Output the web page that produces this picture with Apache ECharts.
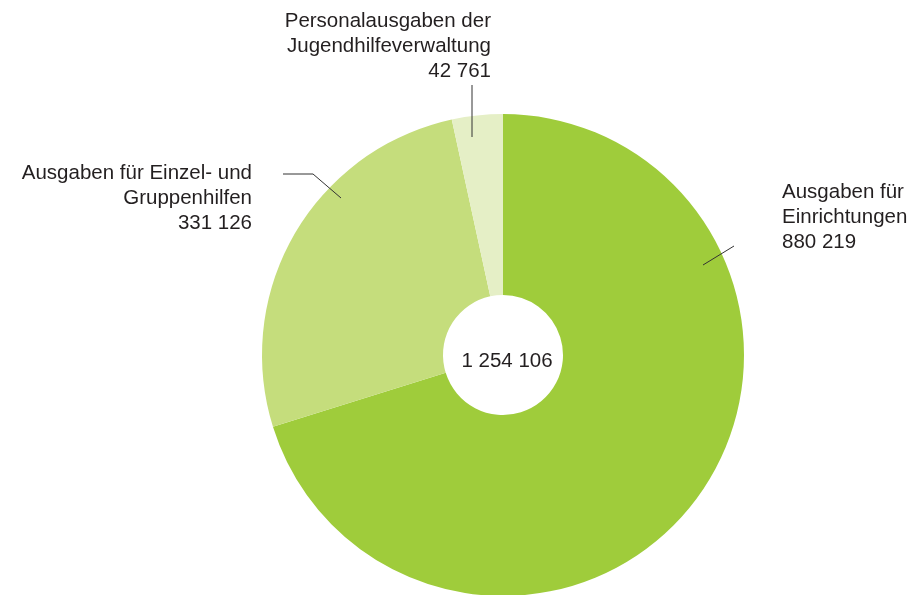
<!DOCTYPE html>
<html>
<head>
<meta charset="utf-8">
<script src="https://cdn.jsdelivr.net/npm/echarts@6/dist/echarts.min.js"></script>
<style>
html,body{margin:0;padding:0;background:#fff;}
#chart{width:916px;height:595px;}
</style>
</head>
<body>
<div id="chart"></div>
<script>
// Daten
var names = ['Ausgaben für\nEinrichtungen', 'Ausgaben für Einzel- und\nGruppenhilfen', 'Personalausgaben der\nJugendhilfeverwaltung'];
var values = [880219, 331126, 42761];
var colors = ['#9fcc3b', '#c5dd7c', '#e5efc6'];

function fmt(v)
{
	return String(v).replace(/\B(?=(\d{3})+(?!\d))/g, ' ');
}

var total = 0;
for (var i = 0; i < values.length; i++) total += values[i];

var pieData = [];
for (var i = 0; i < values.length; i++)
{
	pieData.push({name: names[i], value: values[i], itemStyle: {color: colors[i]}});
}

// Beschriftungen: Lage der Texte und Führungslinien
var labelPos = [
	{x: 782, y: 180, align: 'left', line: [[703, 265], [734, 246]]},
	{x: 252, y: 161, align: 'right', line: [[341, 198], [313, 174], [283, 174]]},
	{x: 491, y: 9, align: 'right', line: [[472, 137], [472, 85]]}
];

// Führungslinien über den Segmenten
var leaderLines = [];
for (var i = 0; i < labelPos.length; i++)
{
	leaderLines.push({
		type: 'polyline',
		z: 100,
		shape: {points: labelPos[i].line},
		style: {stroke: '#333', lineWidth: 1, fill: null}
	});
}

var myChart = echarts.init(document.getElementById('chart'));
var option = {
	backgroundColor: '#fff',
	animation: false,
	title: {
		text: fmt(total),
		left: 502,
		top: 346,
		textAlign: 'center',
		textStyle: {fontFamily: 'Liberation Sans', fontSize: 20.5, fontWeight: 'normal', color: '#231f20'}
	},
	graphic: leaderLines,
	series: [{
		type: 'pie',
		center: [503, 355],
		radius: [60, 241],
		startAngle: 90,
		clockwise: true,
		avoidLabelOverlap: false,
		data: pieData,
		label: {
			show: true,
			formatter: function (p) { return p.name + '\n' + fmt(p.value); },
			fontFamily: 'Liberation Sans',
			fontSize: 20.5,
			lineHeight: 25,
			color: '#231f20'
		},
		labelLine: {show: false},
		labelLayout: function (params)
		{
			var p = labelPos[params.dataIndex];
			return {
				x: p.x,
				y: p.y,
				align: p.align,
				verticalAlign: 'top'
			};
		},
		emphasis: {disabled: true}
	}]
};
myChart.setOption(option);
</script>
</body>
</html>
